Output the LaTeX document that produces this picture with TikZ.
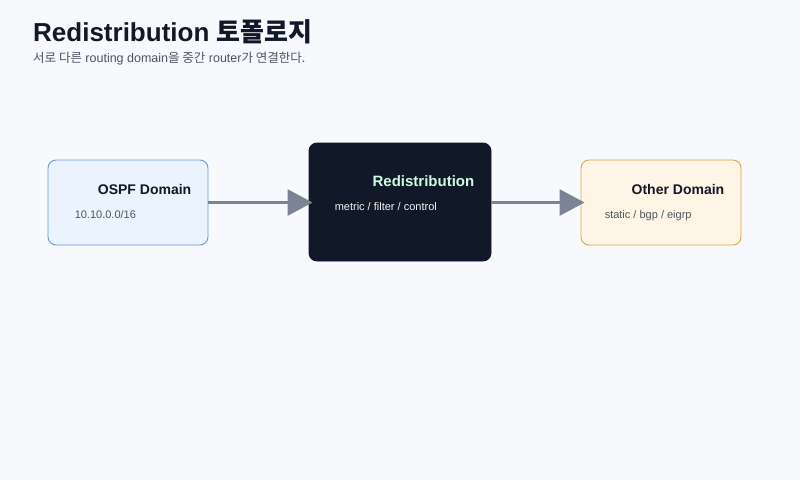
\documentclass[tikz,border=0pt]{standalone}
\usepackage{fontspec}
\setmainfont{Liberation Sans}
\newfontfamily\kr{Noto Sans CJK KR}
\usepackage{tikz}
\usetikzlibrary{arrows.meta}
\usetikzlibrary{calc}

\definecolor{bgpage}{HTML}{F7F9FC}
\definecolor{ink}{HTML}{111827}
\definecolor{subgray}{HTML}{4B5563}
\definecolor{arrowgray}{HTML}{7B8494}
\definecolor{ospffill}{HTML}{EBF3FF}
\definecolor{ospfline}{HTML}{6A95E0}
\definecolor{otherfill}{HTML}{FFF5E6}
\definecolor{otherline}{HTML}{E0A445}
\definecolor{mint}{HTML}{D1FAE5}

\tikzset{
    domainbox/.style={rectangle,rounded corners=8pt,line width=0.9pt,minimum width=160pt,minimum height=85pt},
    boxtitle/.style={font=\bfseries\fontsize{14}{16}\selectfont,color=ink,anchor=base east},
    boxsub/.style={font=\fontsize{11}{13}\selectfont,color=subgray,anchor=base west},
    flow/.style={line width=3pt,color=arrowgray,-{Triangle[length=25pt,width=26pt]},shorten >=-4pt}
}

\begin{document}
\begin{tikzpicture}[x=1pt,y=-1pt]
        \fill[bgpage] (0,0) rectangle (800,480);
        \begin{scope}

            % Heading
            \node[anchor=base west,inner sep=0pt,color=ink,font=\bfseries\fontsize{26}{30}\selectfont] (title) at (33,41) {Redistribution {\kr 토폴로지}};
            \node[anchor=base west,inner sep=0pt,color=subgray,font=\fontsize{12.5}{15}\selectfont] (subtitle) at (33,62) {{\kr 서로 다른} routing domain{\kr 을 중간} router{\kr 가 연결한다.}};

            % OSPF domain
            \node[domainbox,draw=ospfline,fill=ospffill] (ospf) at (128,202.5) {};
            \node[boxtitle,inner sep=0pt] (ospfTitle) at ($(ospf.east)+(-17,-8.5)$) {OSPF Domain};
            \node[boxsub,inner sep=0pt] (ospfSub) at ($(ospf.west)+(27,15.5)$) {10.10.0.0/16};

            % Redistribution router
            \node[domainbox,draw=ink,fill=ink,minimum width=182pt,minimum height=118pt] (redis) at (400,202) {};
            \node[boxtitle,inner sep=0pt,color=mint,font=\bfseries\fontsize{15}{17}\selectfont] (redisTitle) at ($(redis.east)+(-17,-15.5)$) {Redistribution};
            \node[boxsub,inner sep=0pt,color=white!92!gray] (redisSub) at ($(redis.west)+(26,8)$) {metric / filter / control};

            % Other domain
            \node[domainbox,draw=otherline,fill=otherfill] (other) at (661,202.5) {};
            \node[boxtitle,inner sep=0pt] (otherTitle) at ($(other.east)+(-17,-8.5)$) {Other Domain};
            \node[boxsub,inner sep=0pt] (otherSub) at ($(other.west)+(24,15.5)$) {static / bgp / eigrp};

            % Flow
            \draw[flow] (ospf.east) -- (redis.west |- ospf.east);
            \draw[flow] (redis.east |- other.west) -- (other.west);

        \end{scope}
    \end{tikzpicture}
\end{document}
